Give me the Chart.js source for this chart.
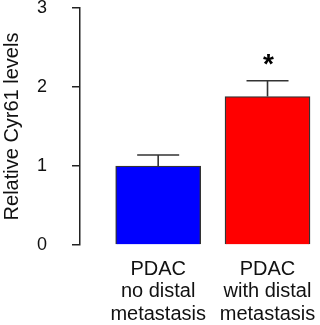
<!DOCTYPE html>
<html>
<head>
<meta charset="utf-8">
<script src="https://cdn.jsdelivr.net/npm/chart.js@4.4.1/dist/chart.umd.min.js"></script>
<style>
  body { margin: 0; background: #fff; }
  .wrap { width: 320px; height: 325px; }
</style>
</head>
<body>
<div class="wrap"><canvas id="myChart"></canvas></div>
<script>
// values
const groups = [
    ['PDAC', 'no distal', 'metastasis'],
    ['PDAC', 'with distal', 'metastasis']
];
const means = [1.0, 1.88];
const errTop = [1.14, 2.08];
const barColors = ['#0000ff', '#ff0000'];
const yTicks = [0, 1, 2, 3];
const stars = ['', '*'];

const fontFam = '"Liberation Sans", Arial, sans-serif';

// error bars + significance mark
const errorBars = {
    id: 'errorBars',
    afterDatasetsDraw(chart) {
        const ctx = chart.ctx;
        const x = chart.scales.x;
        const y = chart.scales.y;
        ctx.save();
        ctx.strokeStyle = '#333';
        ctx.lineWidth = 1.6;
        means.forEach((m, i) => {
            const px = x.getPixelForValue(i + 1);
            const top = y.getPixelForValue(errTop[i]);
            const base = y.getPixelForValue(m);
            ctx.beginPath();
            ctx.moveTo(px, base);
            ctx.lineTo(px, top);
            ctx.moveTo(px - 21, top);
            ctx.lineTo(px + 21, top);
            ctx.stroke();
            if (stars[i]) {
                ctx.fillStyle = '#000';
                ctx.font = 'bold 28px ' + fontFam;
                ctx.textAlign = 'center';
                ctx.textBaseline = 'middle';
                ctx.fillText(stars[i], px + 1, top - 15);
            }
        });
        ctx.restore();
    }
};

const ctx = document.getElementById('myChart').getContext('2d');
const chart = new Chart(ctx, {
    type: 'bar',
    data: {
        datasets: [{
            data: means.map((v, i) => ({ x: i + 1, y: v })),
            backgroundColor: barColors,
            borderColor: '#333',
            borderWidth: 1.4,
            barThickness: 85
        }]
    },
    options: {
        responsive: true,
        maintainAspectRatio: false,
        animation: false,
        layout: { padding: { top: 8, right: 0, bottom: 0, left: 0 } },
        plugins: { legend: { display: false }, tooltip: { enabled: false } },
        scales: {
            x: {
                type: 'linear',
                offset: false,
                min: 0.285,
                max: 2.48,
                afterBuildTicks: s => { s.ticks = groups.map((g, i) => ({ value: i + 1 })); },
                afterFit: s => {
                    s.height = 80;
                    s.paddingLeft = 0;
                    s.paddingRight = 0;
                    s.paddingTop = 0;
                    s.paddingBottom = 0;
                },
                grid: { display: false, drawTicks: false },
                border: { display: false },
                ticks: {
                    autoSkip: false,
                    maxRotation: 0,
                    padding: 13,
                    color: '#111',
                    font: { family: fontFam, size: 20, lineHeight: 1.12 },
                    callback: (v, i) => groups[i]
                }
            },
            y: {
                min: 0,
                max: 3,
                afterBuildTicks: s => { s.ticks = yTicks.map(v => ({ value: v })); },
                afterFit: s => {
                    s.width = 80;
                    s.paddingTop = 0;
                    s.paddingBottom = 0;
                    s.paddingLeft = 0;
                    s.paddingRight = 0;
                },
                grid: { drawOnChartArea: false, tickLength: 8, color: '#222', lineWidth: 1.5 },
                border: { color: '#222', width: 1.5 },
                ticks: {
                    padding: 25,
                    color: '#111',
                    font: { family: fontFam, size: 18 }
                },
                title: {
                    display: true,
                    text: 'Relative Cyr61 levels',
                    color: '#111',
                    font: { family: fontFam, size: 20 },
                    padding: { top: 0, bottom: 0 }
                }
            }
        }
    },
    plugins: [errorBars]
});
</script>
</body>
</html>
